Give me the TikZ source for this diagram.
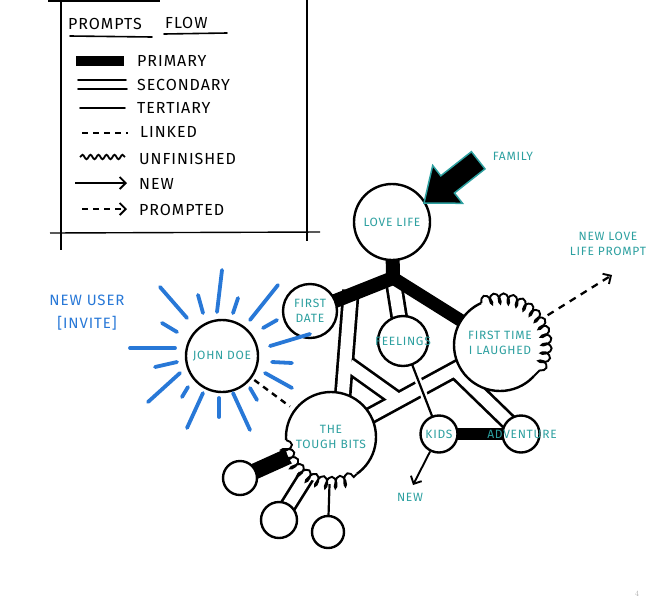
\documentclass[tikz,border=0pt]{standalone}
\usepackage{fontspec}
\newfontfamily\handfont[LetterSpace=6]{Fira Sans}
\usetikzlibrary{arrows.meta,decorations.pathmorphing,backgrounds}
\definecolor{tealtxt}{RGB}{45,160,160}
\definecolor{rayblue}{RGB}{40,120,215}
\begin{document}
\begin{tikzpicture}[x=1pt,y=-1pt,
  bub/.style={circle, draw=black, line width=2.4pt, fill=white, inner sep=0pt},
  txt/.style={text=tealtxt, font=\handfont\fontsize{12}{15}\selectfont, align=center, inner sep=0pt},
  leg/.style={anchor=west, inner sep=0pt, font=\handfont\fontsize{16}{18}\selectfont},
  tert/.style={line width=2.2pt, line cap=round},
  linked/.style={line width=2.4pt, dash pattern=on 6pt off 5pt},
  newarrow/.style={line width=1.9pt, -{Straight Barb[length=6pt,width=12pt,line width=1.9pt]}},
  coilst/.style={line width=1.9pt, decorate, decoration={coil, aspect=0.5, segment length=9pt, amplitude=5.5pt}},
  ray/.style={rayblue, line width=3.8pt, line cap=round}
]
\useasboundingbox (0,0) rectangle (660,600);

% ---------- legend ----------
\draw[line width=1.4pt] (61,0) -- (61,250);
\draw[line width=1.4pt] (307,0) -- (307,241);
\draw[line width=1.4pt] (50,233) -- (320,232);
\draw[line width=3pt] (48,0.5) -- (160,0.5);
\node[leg] (t1) at (68,24) {PROMPTS};
\node[leg] (t2) at (165,23) {FLOW};
\draw[tert, line width=1.6pt] (70,36) -- (152,37);
\draw[tert, line width=1.6pt] (164,34) -- (227,33);
\draw[line width=10pt] (76,61) -- (124,61);
\node[leg] (l1) at (137,61) {PRIMARY};
\draw[tert, line width=1.8pt] (78,80) -- (126,80);
\draw[tert, line width=1.8pt] (78,89) -- (127,89);
\node[leg] (l2) at (137,85) {SECONDARY};
\draw[tert, line width=1.8pt] (80,108) -- (125,108);
\node[leg] (l3) at (137,108) {TERTIARY};
\draw[linked,line width=1.8pt] (82,133) -- (128,133);
\node[leg] (l4) at (140,132) {LINKED};
\draw[line width=1.8pt, decorate, decoration={snake, amplitude=2.2pt, segment length=8pt}] (80,157) -- (125,157);
\node[leg] (l5) at (139,159) {UNFINISHED};
\draw[newarrow] (75,183) -- (127,183);
\node[leg] (l6) at (139,184) {NEW};
\draw[newarrow, dash pattern=on 6pt off 5pt] (82,209) -- (127,209);
\node[leg] (l7) at (139,210) {PROMPTED};

% ---------- bubbles ----------
\node[bub, minimum size=76pt] (lovelife) at (392,222) {};
\node[bub, minimum size=54pt] (firstdate) at (310,311) {};
\node[bub, minimum size=50pt] (feelings) at (403,341) {};
\node[bub, minimum size=92pt] (laughed) at (500,345) {};
\node[bub, minimum size=72pt] (johndoe) at (222,356) {};
\node[bub, minimum size=90pt] (tough) at (331,437) {};
\node[bub, minimum size=37pt] (kids) at (439,434) {};
\node[bub, minimum size=37pt] (adventure) at (521,434) {};
\node[bub, minimum size=34pt] (smallA) at (240,478) {};
\node[bub, minimum size=36pt] (smallB) at (279,520) {};
\node[bub, minimum size=32pt] (smallC) at (328,532) {};

\coordinate (J) at (393,278);
\coordinate (roadAtop) at (351,290);
\coordinate (roadAbot) at (340,430);
\coordinate (roadC1) at (349,365);
\coordinate (roadC2) at (398,400);
\coordinate (roadD1) at (455,370);

\begin{pgfonlayer}{background}
  \foreach \w/\c in {17.6/black, 12.2/white} {
    \draw[line width=\w pt, \c, line cap=butt] (roadAtop) -- (roadAbot);
    \draw[line width=\w pt, \c, line cap=butt] (laughed.center) -- (tough.center);
    \draw[line width=\w pt, \c, line cap=butt] (roadC1) -- (roadC2);
    \draw[line width=\w pt, \c, line cap=butt] (roadD1) -- (adventure.center);
    \draw[line width=\w pt, \c, line cap=butt] (J) -- (feelings.center);
    \draw[line width=\w pt, \c, line cap=butt] (tough.center) -- (smallB.center);
  }
  \draw[white, line width=7pt] (feelings.center) -- (kids.center);
  \draw[tert] (feelings.center) -- (kids.center);
  \draw[tert] (tough.center) -- (smallC.center);
  \draw[line width=14pt, line join=round] (lovelife.center) -- (J) -- (firstdate.center);
  \draw[line width=13pt] (J) -- (laughed.center);
  \draw[line width=12pt] (kids.center) -- (adventure.center);
  \draw[line width=16pt] (tough.center) -- (smallA.center);
\end{pgfonlayer}

% ---------- unfinished coils ----------
\draw[white, line width=4pt] (laughed.center) ++(-114:46) arc[start angle=-114, end angle=42, radius=46];
\draw[coilst] (laughed.center) ++(-114:46) arc[start angle=-114, end angle=42, radius=46];
\draw[white, line width=4pt] (tough.center) ++(176:45) arc[start angle=176, end angle=55, radius=45];
\draw[coilst] (tough.center) ++(176:45) arc[start angle=176, end angle=55, radius=45];

% ---------- labels ----------
\node[txt] (lovelifeT) at (lovelife.center) {LOVE LIFE};
\node[txt] (firstdateT) at (firstdate.center) {FIRST\\DATE};
\node[txt] (feelingsT) at (feelings.center) {FEELINGS};
\node[txt] (laughedT) at ([yshift=2pt]laughed.center) {FIRST TIME\\I LAUGHED};
\node[txt] (johndoeT) at (johndoe.center) {JOHN DOE};
\node[txt] (toughT) at (tough.center) {THE\\TOUGH BITS};
\node[txt] (kidsT) at (kids.center) {KIDS};
\node[txt] (adventureT) at ([xshift=1pt]adventure.center) {ADVENTURE};
\node[txt] (newT) at (410,497) {NEW};
\node[txt] (familyT) at (513,156) {FAMILY};
\node[txt, font=\handfont\fontsize{12}{15}\selectfont] (promptT) at (608,244) {NEW LOVE\\LIFE PROMPT};
\node[txt, text=rayblue, font=\handfont\fontsize{15}{23}\selectfont] (userT) at (87,313) {NEW USER\\{[INVITE]}};
\node[text=gray!60, font=\fontsize{8}{8}\selectfont, inner sep=0pt] (pagenum) at (637,594) {4};

% ---------- family arrow ----------
\draw[fill=black, draw=tealtxt, line width=1.5pt, line join=miter]
  (424,203) -- (462.5,203.3) -- (454.4,193.0) -- (485.0,168.9) -- (471.4,151.7)
  -- (440.8,175.8) -- (432.7,165.5) -- cycle;

% ---------- arrows and links ----------
\coordinate (newend) at (413,485);
\coordinate (promptend) at (612,275);
\draw[newarrow] (kids) -- (newend);
\draw[newarrow, dash pattern=on 7pt off 6pt, line width=2.3pt, shorten <=9pt] (laughed) -- (promptend);
\draw[linked, shorten <=3pt, shorten >=5pt] (johndoe) -- (tough);

% ---------- rays ----------
\foreach \xa/\ya/\xb/\yb in {160/287/187/318, 198/295/203/313, 222/270/217/312,
  238/298/233/313, 278/285/250/320, 277/320/263/328, 270/346/310/334,
  272/362/292/363, 265/373/292/388, 250/388/257/400, 233/393/250/430,
  219/398/219/417, 203/393/187/428, 188/387/182/397, 180/373/148/402,
  177/362/155/367, 175/348/130/348, 177/332/162/323}
  \draw[ray] (\xa,\ya) -- (\xb,\yb);
\end{tikzpicture}
\end{document}
